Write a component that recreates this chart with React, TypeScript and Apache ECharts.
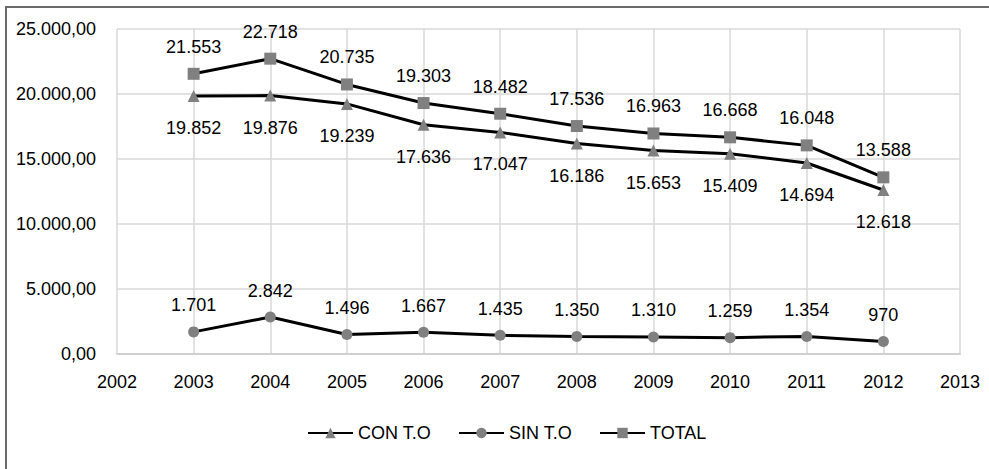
import React, { useEffect, useRef } from "react";
import * as echarts from "echarts";

const years = [2003, 2004, 2005, 2006, 2007, 2008, 2009, 2010, 2011, 2012];
const conTO = [19852, 19876, 19239, 17636, 17047, 16186, 15653, 15409, 14694, 12618];
const sinTO = [1701, 2842, 1496, 1667, 1435, 1350, 1310, 1259, 1354, 970];
const total = [21553, 22718, 20735, 19303, 18482, 17536, 16963, 16668, 16048, 13588];
const seriesNames = ["CON T.O", "SIN T.O", "TOTAL"];

const thousands = (n: number) =>
  String(Math.round(n)).replace(/\B(?=(\d{3})+(?!\d))/g, ".");

const FONT = "Liberation Sans";
const FS = 18;

export default function App() {
  const ref = useRef<HTMLDivElement>(null);
  useEffect(() => {
    if (!ref.current) return;
    const chart = echarts.init(ref.current, undefined, { renderer: "svg" });
    const mk = (name: string, vals: number[], symbol: string, size: number, pos: string, dist: number) => ({
      name,
      type: "line",
      data: years.map((y, i) => [y, vals[i]]),
      symbol,
      symbolSize: size,
      itemStyle: { color: "#808080" },
      lineStyle: { color: "#000", width: 3 },
      label: {
        show: true,
        position: pos,
        distance: dist,
        fontFamily: FONT,
        fontSize: FS,
        color: "#000",
        formatter: (p: any) => thousands(p.value[1]),
      },
      emphasis: { disabled: true },
    });
    chart.setOption({
      animation: false,
      textStyle: { fontFamily: FONT },
      graphic: [
        {
          type: "rect",
          shape: { x: 6, y: 7, width: 1000, height: 500 },
          style: { fill: "none", stroke: "#6a6a6a", lineWidth: 2 },
          silent: true,
        },
      ],
      grid: { left: 117, right: 29, top: 29, bottom: 115, containLabel: false },
      legend: {
        data: seriesNames,
        top: 419,
        left: 302,
        itemWidth: 45,
        itemHeight: 13,
        itemGap: 27,
        textStyle: { fontFamily: FONT, fontSize: 18, color: "#000" },
      },
      xAxis: {
        type: "value",
        min: 2002,
        max: 2013,
        interval: 1,
        axisLine: { show: true, lineStyle: { color: "#d0d0d0", width: 2 } },
        axisTick: { show: false },
        splitLine: { show: true, lineStyle: { color: "#d9d9d9", width: 1.5 } },
        axisLabel: {
          margin: 19,
          fontFamily: FONT,
          fontSize: FS,
          color: "#000",
          formatter: (v: number) => String(v),
        },
      },
      yAxis: {
        type: "value",
        min: 0,
        max: 25000,
        interval: 5000,
        axisLine: { show: false },
        axisTick: { show: false },
        splitLine: { show: true, lineStyle: { color: "#d9d9d9", width: 1.5 } },
        axisLabel: {
          margin: 21,
          fontFamily: FONT,
          fontSize: FS,
          color: "#000",
          formatter: (v: number) => thousands(v) + ",00",
        },
      },
      series: [
        mk(seriesNames[0], conTO, "triangle", 12, "bottom", 17),
        mk(seriesNames[1], sinTO, "circle", 11, "top", 12),
        mk(seriesNames[2], total, "rect", 12, "top", 12),
      ],
    });
    return () => chart.dispose();
  }, []);
  return (
    <div
      ref={ref}
      style={{ position: "fixed", left: 0, top: 0, width: 989, height: 469, background: "#fff" }}
    />
  );
}
